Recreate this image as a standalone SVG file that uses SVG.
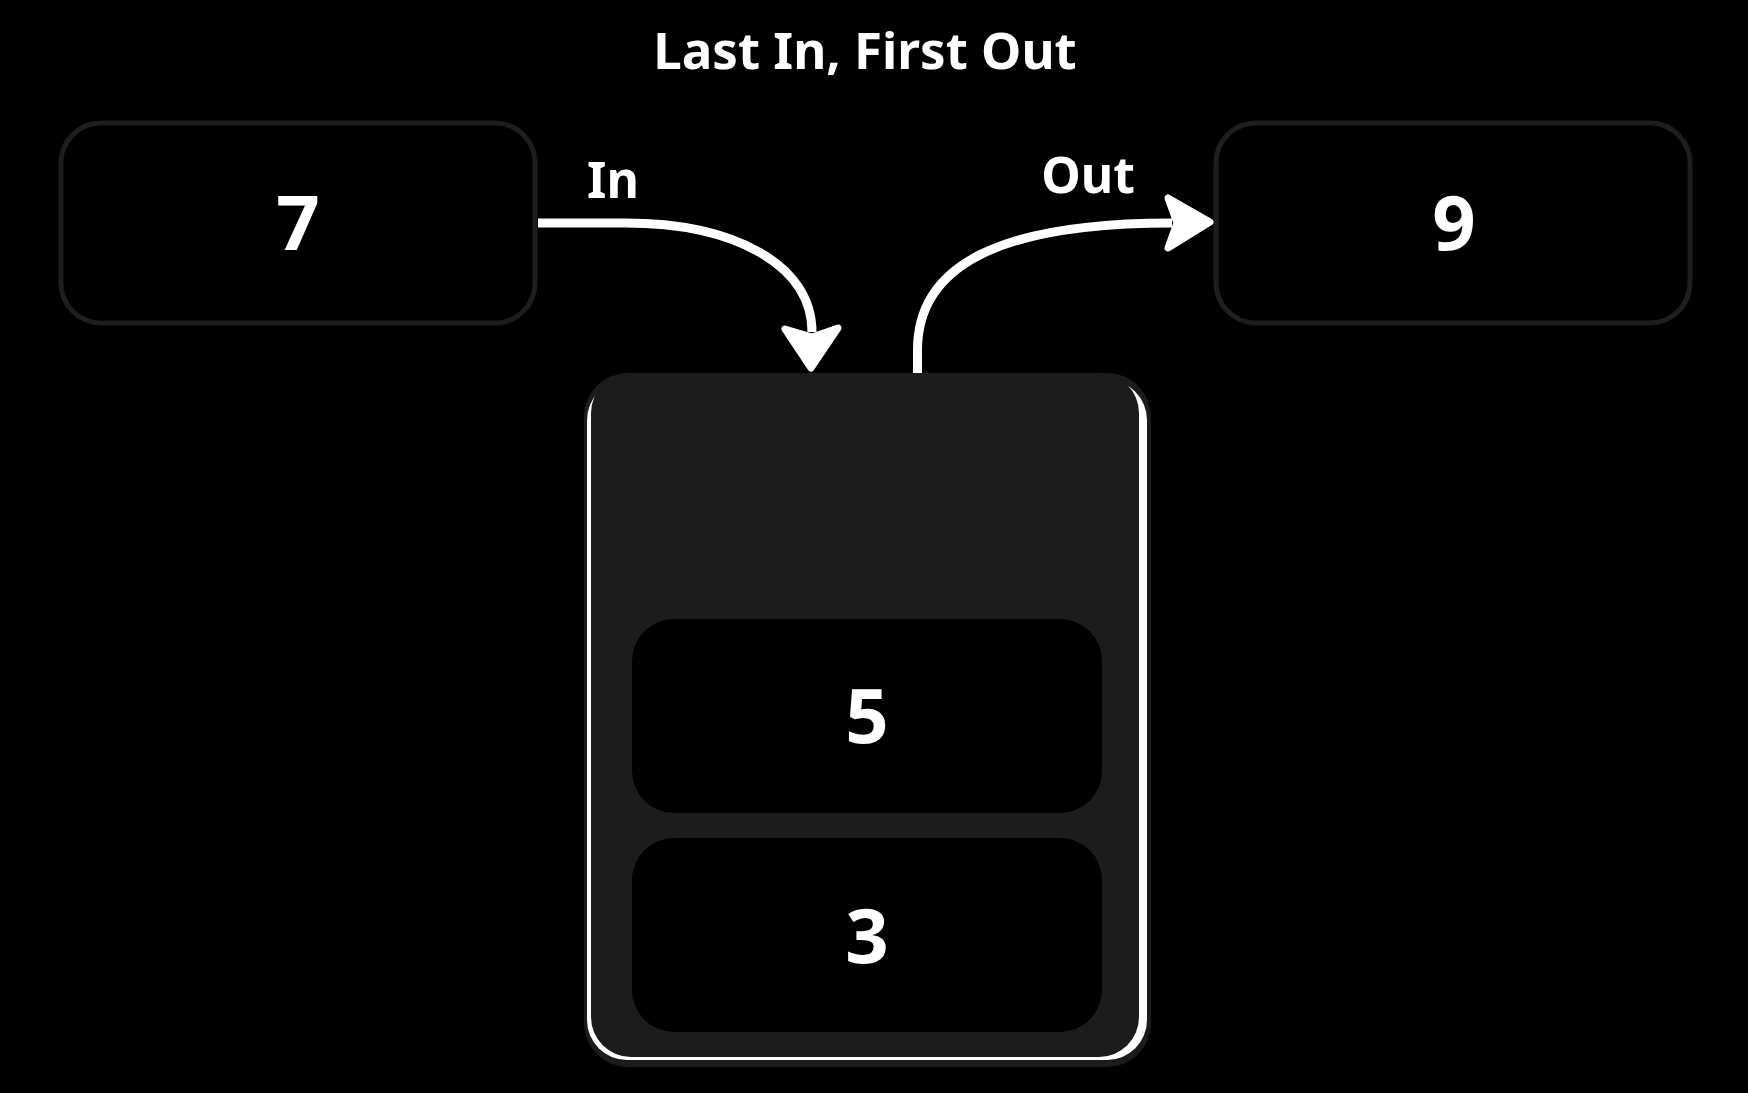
<svg xmlns="http://www.w3.org/2000/svg" width="1748" height="1093" viewBox="0 0 1748 1093">
  <style>
    .t { font-family: "Noto Sans", "Open Sans", "Liberation Sans", sans-serif; font-weight: 700; fill: #ffffff; text-anchor: middle; }
    .title { font-size: 51px; }
    .lbl { font-size: 50px; }
    .num { font-size: 76px; }
    .box { fill: #000000; stroke: #1e1e1e; stroke-width: 5; }
    .conn { fill: none; stroke: #ffffff; stroke-width: 9; stroke-linecap: butt; }
    .head { fill: #ffffff; stroke: #ffffff; stroke-width: 7; stroke-linejoin: round; }
  </style>
  <rect x="0" y="0" width="1748" height="1093" fill="#000000"/>

  <text id="title" class="t title" x="865" y="69">Last In, First Out</text>

  <g id="node-7">
    <rect class="box" x="61" y="123" width="474" height="200" rx="40"/>
    <text class="t num" x="298" y="250">7</text>
  </g>

  <g id="node-9">
    <rect class="box" x="1216" y="123" width="474" height="200" rx="40"/>
    <text class="t num" x="1454" y="250">9</text>
  </g>

  <g id="stack">
    <rect x="584" y="373" width="567" height="694" rx="44" fill="#1c1c1c"/>
    <rect x="587" y="380" width="560" height="680" rx="40" fill="#ffffff"/>
    <rect x="591" y="373" width="548" height="684" rx="40" fill="#1c1c1c"/>
  </g>

  <g id="node-5">
    <rect x="632" y="619" width="470" height="194" rx="42" fill="#000000"/>
    <text class="t num" x="867" y="743">5</text>
  </g>

  <g id="node-3">
    <rect x="632" y="838" width="470" height="194" rx="42" fill="#000000"/>
    <text class="t num" x="867" y="963">3</text>
  </g>

  <g id="connectors">
    <path class="conn" d="M538 223 H625 C735 223 812 265 812 332"/>
    <path class="head" d="M811 368 L785 329 L812 337 L838 328 Z"/>
    <text class="t lbl" x="613" y="198">In</text>

    <path class="conn" d="M917.5 373 V350 C917.5 265 1000 223 1172 223"/>
    <path class="head" d="M1210 222 L1168 198 L1177 223 L1168 248 Z"/>
    <text class="t lbl" x="1088" y="193">Out</text>
  </g>
</svg>
